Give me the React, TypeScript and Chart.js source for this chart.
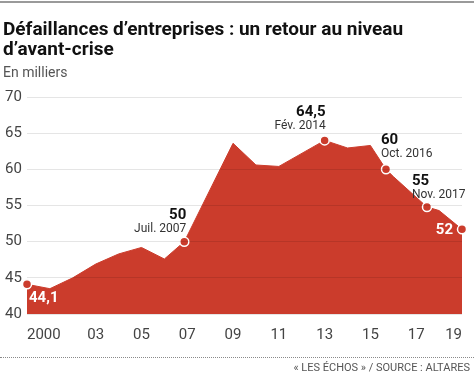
import React, { useEffect, useRef } from "react";
import { Chart, registerables } from "chart.js";

Chart.register(...registerables);

const FONT = "Roboto, 'Liberation Sans', sans-serif";

// Data (decimal years, thousands of business failures)
const years = [2000, 2001, 2002, 2003, 2004, 2005, 2006, 2006.87, 2009, 2010, 2011, 2013, 2014, 2015, 2015.68, 2016, 2017.47, 2018, 2019];
const values = [44.1, 43.5, 45.0, 46.9, 48.3, 49.2, 47.6, 50.0, 63.6, 60.6, 60.4, 64.0, 62.95, 63.3, 60.0, 59.0, 54.8, 54.3, 51.7];

// Highlighted points
const markerIdx = [0, 7, 11, 14, 16, 18];
const valueLabels = ["44,1", "50", "64,5", "60", "55", "52"];
const dateLabels = ["", "Juil. 2007", "Fév. 2014", "Oct. 2016", "Nov. 2017", ""];

// Axis ticks
const xTickYears = [2000, 2003, 2005, 2007, 2009, 2011, 2013, 2015, 2017, 2019];
const xTickLabels = ["2000", "03", "05", "07", "09", "11", "13", "15", "17", "19"];
const yMin = 40;
const yMax = 70;
const yStep = 5;

// Label placement styles (offsets from the marker)
const labelStyles = [
  { align: "left", dx: 2, dyValue: 14, dyDate: 0, inside: true },
  { align: "right", dx: 2, dyValue: -26, dyDate: -13, inside: false },
  { align: "right", dx: 1, dyValue: -28, dyDate: -14, inside: false },
  { align: "left", dx: -5, dyValue: -29, dyDate: -15, inside: false },
  { align: "left", dx: -15, dyValue: -26, dyDate: -12, inside: false },
  { align: "right", dx: -9, dyValue: 1, dyDate: 0, inside: true },
];

const RED = "#cb3c2c";

const annotationPlugin = {
  id: "annots",
  afterDraw(chart: any) {
    const { ctx } = chart;
    const xs = chart.scales.x;
    const ys = chart.scales.y;
    markerIdx.forEach((idx, i) => {
      const px = xs.getPixelForValue(years[idx]);
      const py = ys.getPixelForValue(values[idx]);
      const st = labelStyles[i];
      ctx.save();
      ctx.textAlign = st.align;
      ctx.textBaseline = "middle";
      ctx.fillStyle = st.inside ? "#ffffff" : "#111111";
      ctx.font = `bold 15px ${FONT}`;
      ctx.fillText(valueLabels[i], px + st.dx, py + st.dyValue);
      if (dateLabels[i]) {
        ctx.font = `12px ${FONT}`;
        ctx.fillStyle = "#333333";
        ctx.fillText(dateLabels[i], px + st.dx, py + st.dyDate);
      }
      ctx.restore();
    });
  },
};

export default function App() {
  const canvasRef = useRef<HTMLCanvasElement | null>(null);

  useEffect(() => {
    if (!canvasRef.current) return;
    const pointRadius = years.map((_, i) => (markerIdx.includes(i) ? 4.5 : 0));
    const chart = new Chart(canvasRef.current, {
      type: "line",
      data: {
        datasets: [
          {
            data: years.map((y, i) => ({ x: y, y: values[i] })),
            borderColor: RED,
            borderWidth: 1,
            backgroundColor: RED,
            fill: "start",
            tension: 0,
            pointRadius,
            pointBackgroundColor: RED,
            pointBorderColor: "#ffffff",
            pointBorderWidth: 1.5,
            clip: false as any,
          },
        ],
      },
      options: {
        animation: false,
        responsive: false,
        maintainAspectRatio: false,
        events: [],
        layout: { padding: { top: 97, left: 5, right: 3, bottom: 0 } },
        plugins: {
          legend: { display: false },
          tooltip: { enabled: false },
        },
        scales: {
          x: {
            type: "linear",
            min: 2000,
            max: 2019,
            afterBuildTicks: (scale: any) => {
              scale.ticks = xTickYears.map((v) => ({ value: v }));
            },
            afterFit: (scale: any) => {
              scale.height = 62;
            },
            grid: { display: false, drawTicks: false },
            border: { display: false },
            ticks: {
              autoSkip: false,
              maxRotation: 0,
              align: "inner",
              padding: 12,
              color: "#444444",
              font: { family: FONT, size: 15 },
              callback: (_v: any, index: number) => xTickLabels[index],
            },
          },
          y: {
            min: yMin,
            max: yMax,
            afterFit: (scale: any) => {
              scale.width = 22;
            },
            grid: { color: "rgba(0,0,0,0.1)", drawTicks: false, z: 1 },
            border: { display: false },
            ticks: {
              stepSize: yStep,
              crossAlign: "far",
              padding: 0,
              color: "#444444",
              font: { family: FONT, size: 15 },
            },
          },
        },
      } as any,
      plugins: [annotationPlugin],
    });
    return () => chart.destroy();
  }, []);

  return (
    <div
      style={{
        position: "fixed",
        left: 0,
        top: 0,
        width: 474,
        height: 376,
        background: "#ffffff",
        overflow: "hidden",
        fontFamily: FONT,
      }}
    >
      <canvas ref={canvasRef} width={474} height={376} style={{ position: "absolute", left: 0, top: 0 }} />
      <div style={{ position: "absolute", left: 0, top: 1, width: 474, height: 2, background: "#9a9a9a" }} />
      <div
        style={{
          position: "absolute",
          left: 3,
          top: 19,
          width: 470,
          fontSize: 19,
          lineHeight: "19.5px",
          fontWeight: 700,
          color: "#111111",
        }}
      >
        Défaillances d’entreprises : un retour au niveau
        <br />
        d’avant-crise
      </div>
      <div style={{ position: "absolute", left: 3, top: 64, fontSize: 14, lineHeight: "16px", color: "#555555" }}>
        En milliers
      </div>
      <div
        style={{
          position: "absolute",
          left: 0,
          top: 357,
          width: 474,
          borderTop: "1px dotted #8a8a8a",
        }}
      />
      <div
        style={{
          position: "absolute",
          right: 4,
          top: 361,
          fontSize: 11,
          lineHeight: "14px",
          color: "#555555",
          whiteSpace: "nowrap",
        }}
      >
        « LES ÉCHOS » / SOURCE : ALTARES
      </div>
    </div>
  );
}
